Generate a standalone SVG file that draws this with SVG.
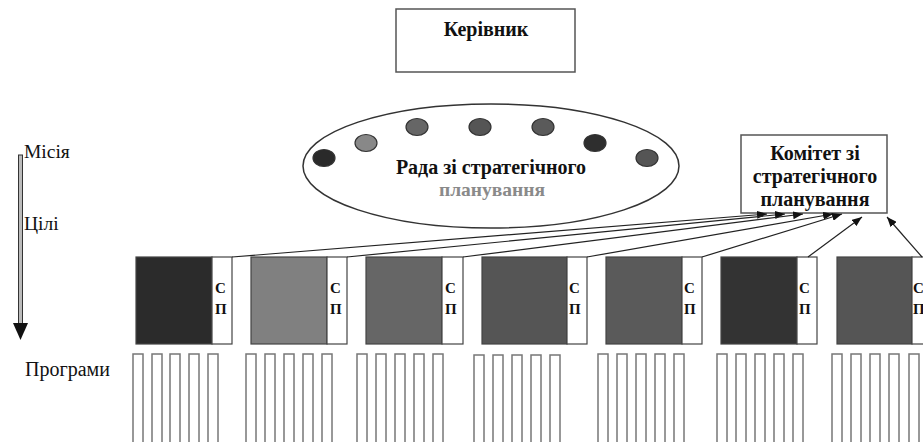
<svg xmlns="http://www.w3.org/2000/svg" width="923" height="442" viewBox="0 0 923 442" font-family="'Liberation Serif', 'Times New Roman', serif">
<defs>
<style>
text{font-family:'Liberation Serif','Times New Roman',serif}
.box{fill:#fff;stroke:#555;stroke-width:1.5}
.t{fill:#111}
.b{font-weight:bold}
.sp{font-weight:bold;font-size:15px;fill:#111}
.dot{stroke:#333;stroke-width:1.2}
.blk{stroke:#444;stroke-width:1.2}
.spw{fill:#fff;stroke:#444;stroke-width:1.2}
.col{fill:#fff;stroke:#777;stroke-width:1.5}
.con{fill:none;stroke:#222;stroke-width:1.2;marker-end:url(#ah)}
</style>
<marker id="ah" viewBox="0 0 10 8" refX="10" refY="4" markerWidth="10" markerHeight="8" markerUnits="userSpaceOnUse" orient="auto">
<path d="M0,0 L10,4 L0,8 Z" fill="#111"/>
</marker>
</defs>
<rect width="923" height="442" fill="#fff"/>

<g id="kerivnyk">
<rect class="box" x="396" y="9" width="179" height="63"/>
<text class="t b" x="486" y="36" font-size="20" text-anchor="middle">Керівник</text>
</g>

<g id="rada">
<ellipse cx="491" cy="166" rx="188" ry="62" fill="#fff" stroke="#333" stroke-width="1.5"/>
<ellipse class="dot" cx="324" cy="158" rx="11" ry="8.5" fill="#2a2a2a"/>
<ellipse class="dot" cx="366" cy="143" rx="11" ry="8.5" fill="#888"/>
<ellipse class="dot" cx="417" cy="127" rx="11" ry="8.5" fill="#666"/>
<ellipse class="dot" cx="480" cy="127" rx="11" ry="8.5" fill="#555"/>
<ellipse class="dot" cx="543" cy="127" rx="11" ry="8.5" fill="#5a5a5a"/>
<ellipse class="dot" cx="595" cy="143" rx="11" ry="8.5" fill="#2e2e2e"/>
<ellipse class="dot" cx="647" cy="158" rx="11" ry="8.5" fill="#555"/>
<text class="t b" x="491" y="174" font-size="20" text-anchor="middle">Рада зі стратегічного</text>
<text class="b" x="492" y="196" font-size="19.5" text-anchor="middle" fill="#8a8a8a">планування</text>
</g>

<g id="komitet">
<rect class="box" x="741" y="135" width="146" height="78"/>
<text class="t b" x="815" y="160" font-size="20" text-anchor="middle">Комітет зі</text>
<text class="t b" x="815" y="183" font-size="20" text-anchor="middle">стратегічного</text>
<text class="t b" x="815" y="206" font-size="20" text-anchor="middle">планування</text>
</g>

<g id="levels">
<rect x="18.5" y="155" width="4" height="170" fill="#bbb" stroke="#333" stroke-width="1"/>
<path d="M13,323 L28,323 L20.5,340 Z" fill="#111"/>
<text class="t" x="24" y="158" font-size="19.5">Місія</text>
<text class="t" x="24" y="230" font-size="19.5">Цілі</text>
<text class="t" x="25" y="376" font-size="20">Програми</text>
</g>

<g id="block1">
<rect class="blk" x="136" y="257" width="76" height="87" fill="#2b2b2b"/>
<rect class="spw" x="212" y="257" width="20" height="87"/>
<text class="sp" x="215" y="293">С</text><text class="sp" x="215" y="314">П</text>
</g>
<g id="block2">
<rect class="blk" x="251" y="257" width="76" height="87" fill="#808080"/>
<rect class="spw" x="327" y="257" width="20" height="87"/>
<text class="sp" x="330" y="293">С</text><text class="sp" x="330" y="314">П</text>
</g>
<g id="block3">
<rect class="blk" x="366" y="257" width="76" height="87" fill="#666"/>
<rect class="spw" x="442" y="257" width="21" height="87"/>
<text class="sp" x="445" y="293">С</text><text class="sp" x="445" y="314">П</text>
</g>
<g id="block4">
<rect class="blk" x="482" y="257" width="85" height="87" fill="#555"/>
<rect class="spw" x="567" y="257" width="20" height="87"/>
<text class="sp" x="569" y="293">С</text><text class="sp" x="569" y="314">П</text>
</g>
<g id="block5">
<rect class="blk" x="606" y="257" width="76" height="87" fill="#5a5a5a"/>
<rect class="spw" x="682" y="257" width="20" height="87"/>
<text class="sp" x="684" y="293">С</text><text class="sp" x="684" y="314">П</text>
</g>
<g id="block6">
<rect class="blk" x="721" y="257" width="76" height="87" fill="#333"/>
<rect class="spw" x="797" y="257" width="20" height="87"/>
<text class="sp" x="799" y="293">С</text><text class="sp" x="799" y="314">П</text>
</g>
<g id="block7">
<rect class="blk" x="837" y="257" width="75" height="87" fill="#555"/>
<rect class="spw" x="912" y="257" width="20" height="87"/>
<text class="sp" x="913" y="293">С</text><text class="sp" x="913" y="314">П</text>
</g>

<g id="programs">
<rect class="col" x="133" y="354" width="10" height="95"/><rect class="col" x="152" y="354" width="10" height="95"/><rect class="col" x="170" y="354" width="10" height="95"/><rect class="col" x="189" y="354" width="10" height="95"/><rect class="col" x="208" y="354" width="10" height="95"/>
<rect class="col" x="246" y="354" width="10" height="95"/><rect class="col" x="265" y="354" width="10" height="95"/><rect class="col" x="284" y="354" width="10" height="95"/><rect class="col" x="303" y="354" width="10" height="95"/><rect class="col" x="322" y="354" width="10" height="95"/>
<rect class="col" x="357" y="354" width="10" height="95"/><rect class="col" x="376" y="354" width="10" height="95"/><rect class="col" x="395" y="354" width="10" height="95"/><rect class="col" x="414" y="354" width="10" height="95"/><rect class="col" x="433" y="354" width="10" height="95"/>
<rect class="col" x="474" y="355" width="10" height="95"/><rect class="col" x="493" y="355" width="10" height="95"/><rect class="col" x="512" y="355" width="10" height="95"/><rect class="col" x="531" y="355" width="10" height="95"/><rect class="col" x="550" y="355" width="10" height="95"/>
<rect class="col" x="598" y="354" width="10" height="95"/><rect class="col" x="617" y="354" width="10" height="95"/><rect class="col" x="636" y="354" width="10" height="95"/><rect class="col" x="655" y="354" width="10" height="95"/><rect class="col" x="674" y="354" width="10" height="95"/>
<rect class="col" x="717" y="354" width="10" height="95"/><rect class="col" x="736" y="354" width="10" height="95"/><rect class="col" x="755" y="354" width="10" height="95"/><rect class="col" x="774" y="354" width="10" height="95"/><rect class="col" x="793" y="354" width="10" height="95"/>
<rect class="col" x="832" y="354" width="10" height="95"/><rect class="col" x="851" y="354" width="10" height="95"/><rect class="col" x="870" y="354" width="10" height="95"/><rect class="col" x="889" y="354" width="10" height="95"/><rect class="col" x="909" y="354" width="10" height="95"/>
</g>

<g id="connectors">
<line class="con" x1="232" y1="257" x2="767" y2="214"/>
<line class="con" x1="347" y1="257" x2="785" y2="214"/>
<line class="con" x1="463" y1="257" x2="803" y2="214"/>
<line class="con" x1="587" y1="257" x2="833" y2="214"/>
<line class="con" x1="702" y1="257" x2="842" y2="214"/>
<line class="con" x1="808" y1="257" x2="862" y2="217"/>
<line class="con" x1="922" y1="257" x2="887" y2="217"/>
</g>
</svg>
